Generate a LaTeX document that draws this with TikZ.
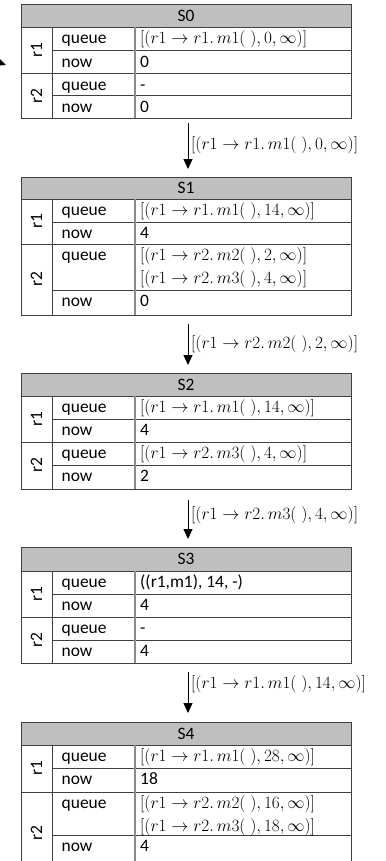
\documentclass[tikz,border=0pt]{standalone}
\usepackage{fontspec}
\setmainfont{Carlito}
\usetikzlibrary{arrows.meta}
\definecolor{hdr}{HTML}{BFBFBF}
\definecolor{ln}{HTML}{404040}
\definecolor{sep}{HTML}{8C8C8C}
\newcommand{\qm}[1]{$[(r1 \rightarrow #1)]$}
% #1 name, #2 top, #3 header bottom, #4 r1 queue bottom, #5 r1/r2 divider, #6 r2 queue bottom, #7 bottom
\newcommand{\sttable}[7]{%
  \fill[hdr] (21,#2) rectangle (351,#3);
  \draw[grid] (21,#2) rectangle (351,#7);
  \draw[grid] (21,#3) -- (351,#3);
  \draw[grid] (52,#3) -- (52,#7);
  \draw[grid] (52,#4) -- (351,#4);
  \draw[grid] (21,#5) -- (351,#5);
  \draw[grid] (52,#6) -- (351,#6);
  \draw[colsep] (135,#3) -- (135,#7);
  \node[hd] (#1h) at (186,{(#2+#3)/2+5.5}) {#1};
  \node[grp] (#1g1) at (36.5,{(#3+#5)/2}) {r1};
  \node[grp] (#1g2) at (36.5,{(#5+#7)/2}) {r2};
  \node[txt] (#1lq1) at (61.5,{#3+16.8}) {queue};
  \node[txt] (#1ln1) at (61.5,{#4+16.5}) {now};
  \node[txt] (#1lq2) at (61.5,{#5+16.8}) {queue};
  \node[txt] (#1ln2) at (61.5,{#6+16.5}) {now};
  \coordinate (#1q1) at (140,{#3+16.8});
  \coordinate (#1n1) at (140,{#4+16.5});
  \coordinate (#1q2) at (140,{#5+16.8});
  \coordinate (#1n2) at (140,{#6+16.5});
}
\begin{document}
\begin{tikzpicture}[x=1bp,y=-1bp,
  txt/.style={anchor=base west, inner sep=0pt, font=\fontsize{17.5}{21}\selectfont},
  val/.style={anchor=base west, inner sep=0pt, font=\fontsize{18.5}{22}\selectfont},
  hd/.style={anchor=base, inner sep=0pt, font=\fontsize{17.5}{21}\selectfont},
  grp/.style={rotate=90, inner sep=0pt, anchor=center, font=\fontsize{17.5}{21}\selectfont},
  grid/.style={draw=ln, line width=1bp},
  colsep/.style={draw=sep, line width=1.8bp},
  trans/.style={draw=black, line width=1bp, -{Triangle[length=10bp,width=9bp]}},
  lbl/.style={anchor=base west, inner sep=0pt, font=\fontsize{18.5}{22}\selectfont}]
\useasboundingbox (0,0) rectangle (385,861);
\clip (0,0) rectangle (385,861);

% tables
\sttable{S0}{4}{27}{50.5}{73.5}{95.5}{118}
\sttable{S1}{177}{199}{222}{244}{290}{315}
\sttable{S2}{373}{396}{419}{442}{465}{489}
\sttable{S3}{547}{571}{594}{617}{640}{663}
\sttable{S4}{722}{745}{768}{792}{835}{875}

% values
\node[val] (v0a) at (S0q1) {\qm{r1.\,m1(\;),0,\infty}};
\node[txt] (v0b) at (S0n1) {0};
\node[txt] (v0c) at (S0q2) {-};
\node[txt] (v0d) at (S0n2) {0};

\node[val] (v1a) at (S1q1) {\qm{r1.\,m1(\;),14,\infty}};
\node[txt] (v1b) at (S1n1) {4};
\node[val] (v1c) at (S1q2) {\qm{r2.\,m2(\;),2,\infty}};
\node[val] (v1c2) at ([yshift=-22.3bp]S1q2) {\qm{r2.\,m3(\;),4,\infty}};
\node[txt] (v1d) at (S1n2) {0};

\node[val] (v2a) at (S2q1) {\qm{r1.\,m1(\;),14,\infty}};
\node[txt] (v2b) at (S2n1) {4};
\node[val] (v2c) at (S2q2) {\qm{r2.\,m3(\;),4,\infty}};
\node[txt] (v2d) at (S2n2) {2};

\node[txt] (v3a) at (S3q1) {((r1,m1), 14, -)};
\node[txt] (v3b) at (S3n1) {4};
\node[txt] (v3c) at (S3q2) {-};
\node[txt] (v3d) at (S3n2) {4};

\node[val] (v4a) at (S4q1) {\qm{r1.\,m1(\;),28,\infty}};
\node[txt] (v4b) at (S4n1) {18};
\node[val] (v4c) at (S4q2) {\qm{r2.\,m2(\;),16,\infty}};
\node[val] (v4c2) at ([yshift=-22.3bp]S4q2) {\qm{r2.\,m3(\;),18,\infty}};
\node[txt] (v4d) at (S4n2) {4};

% transitions
\coordinate (a1s) at (188,123); \coordinate (a1e) at (188,169);
\coordinate (a2s) at (188,324); \coordinate (a2e) at (188,365);
\coordinate (a3s) at (188,500); \coordinate (a3e) at (188,539);
\coordinate (a4s) at (188,672); \coordinate (a4e) at (188,713);
\draw[trans] (a1s) -- (a1e);
\draw[trans] (a2s) -- (a2e);
\draw[trans] (a3s) -- (a3e);
\draw[trans] (a4s) -- (a4e);
\node[lbl] (t1) at (191,149.5) {\qm{r1.\,m1(\;),0,\infty}};
\node[lbl] (t2) at (191,348) {\qm{r2.\,m2(\;),2,\infty}};
\node[lbl] (t3) at (191,519.5) {\qm{r2.\,m3(\;),4,\infty}};
\node[lbl] (t4) at (191,688) {\qm{r1.\,m1(\;),14,\infty}};

% incoming arrow stub at left edge
\coordinate (stubS) at (-30,52); \coordinate (stubE) at (6,65);
\draw[trans] (stubS) -- (stubE);
\end{tikzpicture}
\end{document}
